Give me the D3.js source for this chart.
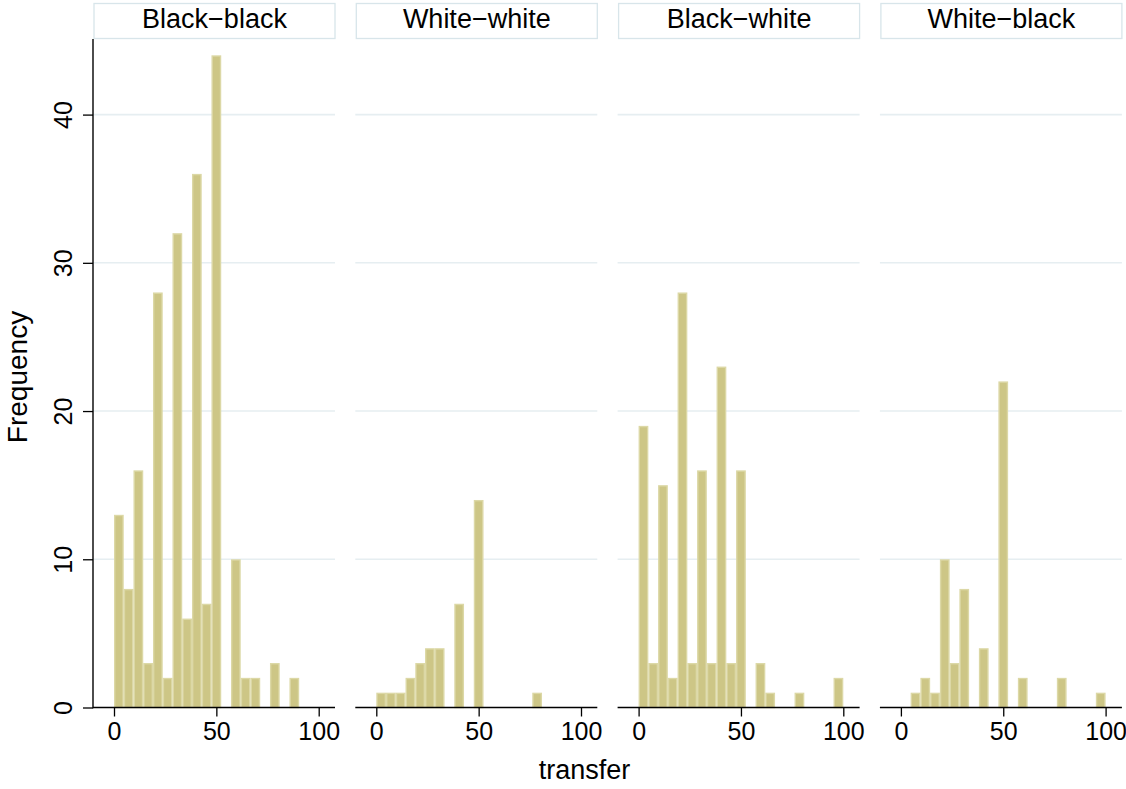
<!DOCTYPE html>
<html>
<head>
<meta charset="utf-8">
<script src="https://cdn.jsdelivr.net/npm/d3@7"></script>
<style>
  html, body { margin: 0; padding: 0; background: #ffffff; }
  svg { display: block; font-family: "Liberation Sans", Arial, Helvetica, sans-serif; }
</style>
</head>
<body>
<svg id="chart" width="1126" height="789"></svg>
<script>
// ---- Data ----
const panels = ["Black\u2212black", "White\u2212white", "Black\u2212white", "White\u2212black"];
const binStart = 0;
const binEnd = 100;
const binCount = 21;
// frequency per bin (21 bins of width 100/21 starting at 0)
const countsBlackBlack = [13, 8, 16, 3, 28, 2, 32, 6, 36, 7, 44, 0, 10, 2, 2, 0, 3, 0, 2, 0, 0];
const countsWhiteWhite = [1, 1, 1, 2, 3, 4, 4, 0, 7, 0, 14, 0, 0, 0, 0, 0, 1, 0, 0, 0, 0];
const countsBlackWhite = [19, 3, 15, 2, 28, 3, 16, 3, 23, 3, 16, 0, 3, 1, 0, 0, 1, 0, 0, 0, 2];
const countsWhiteBlack = [0, 1, 2, 1, 10, 3, 8, 0, 4, 0, 22, 0, 2, 0, 0, 0, 2, 0, 0, 0, 1];
const xTicks = [0, 50, 100];
const yTicks = [0, 10, 20, 30, 40];
const gridTicks = [10, 20, 30, 40];
const xTitle = "transfer";
const yTitle = "Frequency";

const panelCounts = [countsBlackBlack, countsWhiteWhite, countsBlackWhite, countsWhiteBlack];

// ---- Layout ----
const svg = d3.select("#chart");
const panelLeft0 = 93, panelStep = 262.3, panelW = 242;
const plotTop = 39, plotBottom = 707.5;
const barFill = "#cdc686", barStroke = "#dcd8a6";
const gridColor = "#e6eef1";
const fontTick = 25, fontTitle = 27;

const y = d3.scaleLinear().domain([0, 45.1]).range([plotBottom, plotTop]);
const binW = (binEnd - binStart) / binCount;

panels.forEach((name, i) => {
  const L = panelLeft0 + i * panelStep;
  const x = d3.scaleLinear().domain([0, 100]).range([L + 21, L + 225.7]);
  const g = svg.append("g");

  // header box
  g.append("rect")
    .attr("x", L + 1).attr("y", 3.5)
    .attr("width", panelW - 1).attr("height", 35)
    .attr("fill", "#ffffff").attr("stroke", "#d8e5ea").attr("stroke-width", 1.3);
  g.append("text")
    .attr("x", L + 1 + (panelW - 1) / 2).attr("y", 27.5)
    .attr("text-anchor", "middle")
    .attr("font-size", fontTitle).attr("fill", "#000")
    .text(name);

  // grid lines
  g.selectAll("line.grid").data(gridTicks).enter().append("line")
    .attr("class", "grid")
    .attr("x1", L).attr("x2", L + panelW)
    .attr("y1", d => y(d)).attr("y2", d => y(d))
    .attr("stroke", gridColor).attr("stroke-width", 1.6);

  // bars
  const bins = panelCounts[i].map((c, k) => ({ x0: binStart + k * binW, x1: binStart + (k + 1) * binW, c }));
  g.selectAll("rect.bar").data(bins.filter(b => b.c > 0)).enter().append("rect")
    .attr("class", "bar")
    .attr("x", d => x(d.x0) + 0.7)
    .attr("width", d => x(d.x1) - x(d.x0) - 1.4)
    .attr("y", d => y(d.c) + 0.7)
    .attr("height", d => y(0) - y(d.c) - 0.7)
    .attr("fill", barFill)
    .attr("stroke", barStroke).attr("stroke-width", 1.4);

  // x axis
  const xAxis = d3.axisBottom(x).tickValues(xTicks).tickSize(9).tickPadding(6).tickFormat(d3.format("d"));
  const xa = g.append("g").attr("transform", `translate(0,${plotBottom})`).call(xAxis);
  xa.select(".domain").remove();
  xa.append("line").attr("x1", L).attr("x2", L + panelW).attr("y1", 0).attr("y2", 0)
    .attr("stroke", "#000").attr("stroke-width", 1.4);
  xa.selectAll(".tick line").attr("stroke", "#000").attr("stroke-width", 1.3);
  xa.selectAll(".tick text").attr("font-size", fontTick).attr("fill", "#000")
    .attr("font-family", "Liberation Sans, Arial, sans-serif");

  // y axis only on first panel
  if (i === 0) {
    const yAxis = d3.axisLeft(y).tickValues(yTicks).tickSize(10).tickPadding(8).tickFormat(d3.format("d"));
    const ya = g.append("g").attr("transform", `translate(${L},0)`).call(yAxis);
    ya.select(".domain").remove();
    ya.append("line").attr("x1", 0).attr("x2", 0).attr("y1", plotTop).attr("y2", plotBottom + 0.7)
      .attr("stroke", "#000").attr("stroke-width", 1.4);
    ya.selectAll(".tick line").attr("stroke", "#000").attr("stroke-width", 1.3);
    ya.selectAll(".tick text")
      .attr("font-size", fontTick).attr("fill", "#000")
      .attr("font-family", "Liberation Sans, Arial, sans-serif")
      .attr("text-anchor", "middle")
      .attr("dy", null)
      .attr("x", null)
      .attr("transform", "translate(-21,0) rotate(-90)")
      .attr("y", 0);
  }
});

// axis titles
svg.append("text")
  .attr("x", 584.5).attr("y", 779)
  .attr("text-anchor", "middle")
  .attr("font-size", fontTitle).attr("fill", "#000")
  .text(xTitle);
svg.append("text")
  .attr("transform", "translate(27,377) rotate(-90)")
  .attr("text-anchor", "middle")
  .attr("font-size", 28).attr("fill", "#000")
  .text(yTitle);
</script>
</body>
</html>
